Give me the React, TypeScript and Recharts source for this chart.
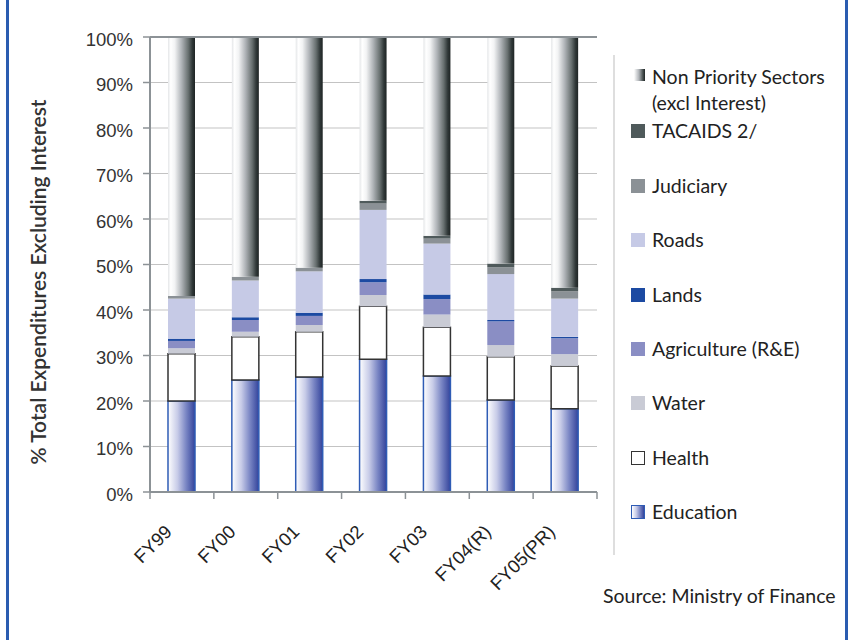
import React from 'react';
import { BarChart, Bar, XAxis, YAxis, CartesianGrid, Legend, ReferenceLine } from 'recharts';

const categories = ['FY99', 'FY00', 'FY01', 'FY02', 'FY03', 'FY04(R)', 'FY05(PR)'];
const education = [20.0, 24.6, 25.3, 29.2, 25.5, 20.2, 18.3];
const health = [10.4, 9.5, 9.9, 11.6, 10.7, 9.5, 9.4];
const water = [1.2, 1.1, 1.5, 2.5, 2.8, 2.6, 2.6];
const agriculture = [1.6, 2.6, 2.0, 2.8, 3.4, 5.2, 3.5];
const lands = [0.5, 0.6, 0.7, 0.7, 1.0, 0.3, 0.3];
const roads = [8.8, 8.1, 9.1, 15.2, 11.2, 10.1, 8.4];
const judiciary = [0.6, 0.8, 0.8, 1.4, 1.1, 1.5, 1.6];
const tacaids = [0, 0, 0, 0.6, 0.6, 0.8, 0.8];
const nonPriority = [56.9, 52.7, 50.7, 36.0, 43.7, 49.8, 55.1];
const yTicks = [0, 10, 20, 30, 40, 50, 60, 70, 80, 90, 100];

const data = categories.map((cat, i) => ({
  cat,
  education: education[i],
  health: health[i],
  water: water[i],
  agriculture: agriculture[i],
  lands: lands[i],
  roads: roads[i],
  judiciary: judiciary[i],
  tacaids: tacaids[i],
  nonPriority: nonPriority[i],
}));

const series = [
  { key: 'education', name: 'Education', fill: 'url(#eduGrad)', stroke: '#2f5cb5', sw: 1.5, swatch: 'linear-gradient(to right, #ffffff, #c8cce8 35%, #7a86c4 67%, #34449c)', swBorder: '1px solid #2f5cb5' },
  { key: 'health', name: 'Health', fill: '#ffffff', stroke: '#333333', sw: 1.5, swatch: '#ffffff', swBorder: '1px solid #333' },
  { key: 'water', name: 'Water', fill: '#c9cbd5', stroke: 'none', sw: 0, swatch: '#c9cbd5', swBorder: 'none' },
  { key: 'agriculture', name: 'Agriculture (R&E)', fill: '#8a8ec4', stroke: 'none', sw: 0, swatch: '#8a8ec4', swBorder: 'none' },
  { key: 'lands', name: 'Lands', fill: '#1c4aa2', stroke: 'none', sw: 0, swatch: '#1c4aa2', swBorder: 'none' },
  { key: 'roads', name: 'Roads', fill: '#c6cae6', stroke: 'none', sw: 0, swatch: '#c6cae6', swBorder: 'none' },
  { key: 'judiciary', name: 'Judiciary', fill: '#8b9196', stroke: 'none', sw: 0, swatch: '#8b9196', swBorder: 'none' },
  { key: 'tacaids', name: 'TACAIDS 2/', fill: '#4f5a5b', stroke: 'none', sw: 0, swatch: '#4f5a5b', swBorder: 'none' },
  { key: 'nonPriority', name: 'Non Priority Sectors\n(excl Interest)', fill: 'url(#npGrad)', stroke: 'none', sw: 0, swatch: 'linear-gradient(to right, #ffffff, #b0b4b8 45%, #4a5252 80%, #1e2424)', swBorder: 'none' },
];

const PLOT_LEFT = 150;
const PLOT_RIGHT = 597;
const BAND = (PLOT_RIGHT - PLOT_LEFT) / categories.length;
const AXIS_GRAY = '#8c9296';
const TEXT_FONT = 'Lato, "Open Sans", sans-serif';
const TICK_FONT = '"Liberation Sans", Arial, sans-serif';

const XTick = (props: any) => {
  const { x, y, payload, index } = props;
  const half = BAND / 2;
  return (
    <g>
      <line x1={x - half} x2={x - half} y1={y} y2={y + 7} stroke={AXIS_GRAY} strokeWidth={1.5} />
      {index === categories.length - 1 && (
        <line x1={x + half} x2={x + half} y1={y} y2={y + 7} stroke={AXIS_GRAY} strokeWidth={1.5} />
      )}
      <text
        x={0}
        y={0}
        transform={`translate(${x - 9},${y + 41}) rotate(-45)`}
        textAnchor="end"
        fontSize={18.5}
        fill="#222"
        fontFamily={TICK_FONT}
      >
        {payload.value}
      </text>
    </g>
  );
};

const LegendContent = () => {
  const items = [...series].reverse();
  return (
    <div style={{ position: 'relative', width: 238, height: 500, borderLeft: '2px solid #dedede', boxSizing: 'border-box', fontFamily: TEXT_FONT }}>
      {items.map((s, i) => {
        const lines = s.name.split('\n');
        const isNP = s.key === 'nonPriority';
        return (
          <div key={s.key} style={{ position: 'absolute', left: 0, top: 9 + i * 54.4, width: 236 }}>
            <div
              style={{
                position: 'absolute',
                left: isNP ? 19 : 16,
                top: isNP ? 5 : 6,
                width: isNP ? 11 : 14,
                height: isNP ? 12 : 14,
                background: s.swatch,
                border: s.swBorder,
                boxSizing: 'border-box',
              }}
            />
            <div style={{ position: 'absolute', left: 37, top: 0, fontSize: 19.5, lineHeight: '26px', color: '#222', whiteSpace: 'nowrap' }}>
              {lines.map((l, j) => (
                <div key={j}>{l}</div>
              ))}
            </div>
          </div>
        );
      })}
    </div>
  );
};

const YTitle = () => (
  <text
    x={37}
    y={282}
    transform="rotate(-90 37 282)"
    textAnchor="middle"
    dominantBaseline="central"
    fontSize={21}
    fontWeight={600}
    fill="#333"
    fontFamily={TEXT_FONT}
  >
    % Total Expenditures Excluding Interest
  </text>
);

export default function App() {
  return (
    <div style={{ position: 'absolute', left: 0, top: 0, width: 851, height: 640, background: '#fff', overflow: 'hidden' }}>
      <div style={{ position: 'absolute', left: 6, top: 0, width: 3, height: 640, background: '#2a5cb0' }} />
      <div style={{ position: 'absolute', left: 845, top: 0, width: 3, height: 640, background: '#2a5cb0' }} />
      <BarChart width={851} height={640} data={data} margin={{ top: 37, right: 254, bottom: 0, left: 0 }} barSize={27}>
        <defs>
          <linearGradient id="eduGrad" x1="0" y1="0" x2="1" y2="0">
            <stop offset="0" stopColor="#ffffff" />
            <stop offset="0.35" stopColor="#c8cce8" />
            <stop offset="0.67" stopColor="#7a86c4" />
            <stop offset="1" stopColor="#33439b" />
          </linearGradient>
          <linearGradient id="npGrad" x1="0" y1="0" x2="1" y2="0">
            <stop offset="0" stopColor="#e4e6e8" />
            <stop offset="0.1" stopColor="#ffffff" />
            <stop offset="0.25" stopColor="#f2f3f4" />
            <stop offset="0.5" stopColor="#b0b4b8" />
            <stop offset="0.75" stopColor="#687070" />
            <stop offset="0.9" stopColor="#303838" />
            <stop offset="1" stopColor="#1e2424" />
          </linearGradient>
        </defs>
        <CartesianGrid vertical={false} stroke="#c3c3c3" strokeWidth={1.2} />
        <XAxis
          dataKey="cat"
          height={148}
          interval={0}
          tickSize={0}
          tickMargin={0}
          tickLine={false}
          axisLine={{ stroke: AXIS_GRAY, strokeWidth: 2 }}
          tick={<XTick />}
        />
        <YAxis
          width={150}
          domain={[0, 100]}
          ticks={yTicks}
          interval={0}
          tickFormatter={(v: number) => `${v}%`}
          tickSize={7}
          tickMargin={10}
          tickLine={{ stroke: AXIS_GRAY, strokeWidth: 1.5 }}
          axisLine={{ stroke: AXIS_GRAY, strokeWidth: 2 }}
          tick={{ fontSize: 18.5, fill: '#333', fontFamily: TICK_FONT, dy: 2 }}
          label={{ content: () => <YTitle /> }}
        />
        <YAxis
          yAxisId="r"
          orientation="right"
          width={0}
          domain={[0, 100]}
          tick={false}
          tickLine={false}
          axisLine={{ stroke: AXIS_GRAY, strokeWidth: 2 }}
        />
        {series.map((s) => (
          <Bar
            key={s.key}
            dataKey={s.key}
            name={s.name}
            stackId="a"
            fill={s.fill}
            stroke={s.stroke}
            strokeWidth={s.sw}
            isAnimationActive={false}
          />
        ))}
        <ReferenceLine y={100} stroke={AXIS_GRAY} strokeWidth={2} />
        <Legend
          layout="horizontal"
          verticalAlign="middle"
          align="center"
          width={238}
          height={500}
          wrapperStyle={{ left: 613, top: 55, width: 238, height: 500 }}
          content={() => <LegendContent />}
        />
      </BarChart>
      <div style={{ position: 'absolute', left: 603, top: 584, fontSize: 19.5, fontFamily: TEXT_FONT, color: '#222', whiteSpace: 'nowrap' }}>
        Source: Ministry of Finance
      </div>
    </div>
  );
}
